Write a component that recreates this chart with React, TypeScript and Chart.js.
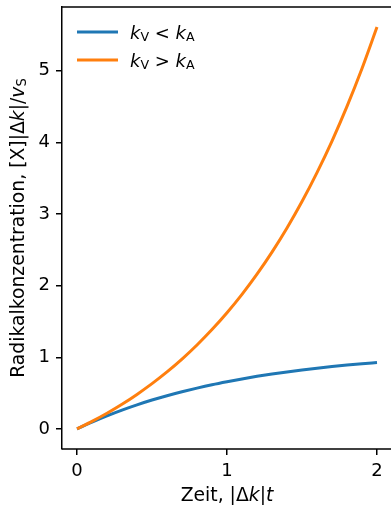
import React, { useEffect, useRef } from "react";
import { Chart, registerables } from "chart.js";

Chart.register(...registerables);

// ---- data ----
const timeValues = [0, 0.1, 0.2, 0.3, 0.4, 0.5, 0.6, 0.7, 0.8, 0.9, 1.0, 1.1, 1.2, 1.3, 1.4, 1.5, 1.6, 1.7, 1.8, 1.9, 2.0];
// k_V < k_A (saturating)
const slowValues = [0, 0.096, 0.183, 0.263, 0.336, 0.403, 0.464, 0.519, 0.570, 0.617, 0.659, 0.698, 0.734, 0.766, 0.796, 0.823, 0.848, 0.871, 0.891, 0.910, 0.927];
// k_V > k_A (growing)
const fastValues = [0, 0.105, 0.219, 0.344, 0.482, 0.632, 0.796, 0.975, 1.172, 1.387, 1.622, 1.879, 2.161, 2.469, 2.806, 3.175, 3.579, 4.020, 4.503, 5.032, 5.611];
const xTickValues = [0, 1, 2];
const yTickValues = [0, 1, 2, 3, 4, 5];
const seriesLabels = ["kV < kA", "kV > kA"];

const BLUE = "#1f77b4";
const ORANGE = "#ff7f0e";
const FONT = '"DejaVu Sans"';
const FS = 18;
const TITLE_FS = 18.8;
const CANVAS_W = 420;
const CHART_RIGHT = 392;

type Seg = { t: string; it?: boolean; sub?: boolean };

function segFont(s: Seg, size: number) {
  const sz = s.sub ? size * 0.7 : size;
  return `${s.it ? "italic " : ""}${sz}px ${FONT}`;
}

function richWidth(ctx: CanvasRenderingContext2D, segs: Seg[], size: number) {
  let w = 0;
  for (const s of segs) {
    ctx.font = segFont(s, size);
    w += ctx.measureText(s.t).width;
  }
  return w;
}

function drawRich(ctx: CanvasRenderingContext2D, segs: Seg[], x: number, y: number, size: number) {
  let cx = x;
  ctx.textBaseline = "alphabetic";
  ctx.textAlign = "left";
  for (const s of segs) {
    ctx.font = segFont(s, size);
    ctx.fillText(s.t, cx, s.sub ? y + size * 0.13 : y);
    cx += ctx.measureText(s.t).width;
  }
}

const legendSegs: Seg[][] = [
  [{ t: "k", it: true }, { t: "V", sub: true }, { t: " < " }, { t: "k", it: true }, { t: "A", sub: true }],
  [{ t: "k", it: true }, { t: "V", sub: true }, { t: " > " }, { t: "k", it: true }, { t: "A", sub: true }],
];
const xTitleSegs: Seg[] = [{ t: "Zeit, |Δ" }, { t: "k", it: true }, { t: "|" }, { t: "t", it: true }];
const yTitleSegs: Seg[] = [
  { t: "Radikalkonzentration, [X]|Δ" },
  { t: "k", it: true },
  { t: "|/" },
  { t: "v", it: true },
  { t: "S", sub: true },
];

const decorPlugin = {
  id: "decor",
  afterDraw(chart: any) {
    const ctx: CanvasRenderingContext2D = chart.ctx;
    const a = chart.chartArea;
    ctx.save();
    // top spine only (the right spine lies outside the visible width)
    ctx.strokeStyle = "#000";
    ctx.lineWidth = 1.5;
    ctx.beginPath();
    ctx.moveTo(a.left, a.top);
    ctx.lineTo(chart.width, a.top);
    ctx.stroke();

    // legend
    const colors = [BLUE, ORANGE];
    for (let i = 0; i < 2; i++) {
      const ly = a.top + 25 + i * 28;
      ctx.strokeStyle = colors[i];
      ctx.lineWidth = 3;
      ctx.lineCap = "butt";
      ctx.beginPath();
      ctx.moveTo(a.left + 15, ly);
      ctx.lineTo(a.left + 56, ly);
      ctx.stroke();
      ctx.fillStyle = "#000";
      drawRich(ctx, legendSegs[i], a.left + 68, ly + 6.5, FS);
    }

    // x title
    ctx.fillStyle = "#000";
    const xw = richWidth(ctx, xTitleSegs, TITLE_FS);
    const xc = (a.left + a.right) / 2;
    drawRich(ctx, xTitleSegs, xc - xw / 2, 501, TITLE_FS);

    // y title
    const yw = richWidth(ctx, yTitleSegs, TITLE_FS);
    const yc = (a.top + a.bottom) / 2;
    ctx.translate(24, yc);
    ctx.rotate(-Math.PI / 2);
    drawRich(ctx, yTitleSegs, -yw / 2, 0, TITLE_FS);
    ctx.restore();
  },
};

export default function App() {
  const ref = useRef<HTMLCanvasElement | null>(null);

  useEffect(() => {
    if (!ref.current) return;
    const tickFont = { family: "DejaVu Sans", size: FS };
    const grid = {
      display: true,
      drawOnChartArea: false,
      drawTicks: true,
      tickLength: 6,
      color: "#000",
      lineWidth: 1.5,
    };
    const border = { display: true, color: "#000", width: 1.5 };
    const chart = new Chart(ref.current, {
      type: "line",
      data: {
        datasets: [
          {
            label: seriesLabels[0],
            data: timeValues.map((t, i) => ({ x: t, y: slowValues[i] })),
            borderColor: BLUE,
            backgroundColor: BLUE,
            borderWidth: 3,
            pointRadius: 0,
            fill: false,
            cubicInterpolationMode: "monotone",
            order: 2,
          },
          {
            label: seriesLabels[1],
            data: timeValues.map((t, i) => ({ x: t, y: fastValues[i] })),
            borderColor: ORANGE,
            backgroundColor: ORANGE,
            borderWidth: 3,
            pointRadius: 0,
            fill: false,
            cubicInterpolationMode: "monotone",
            order: 1,
          },
        ],
      },
      options: {
        animation: false,
        responsive: false,
        devicePixelRatio: 1,
        layout: { padding: { top: 7, right: CANVAS_W - CHART_RIGHT, left: 0, bottom: 0 } },
        plugins: {
          legend: { display: false },
          tooltip: { enabled: false },
        },
        scales: {
          x: {
            type: "linear",
            min: -0.1,
            max: 2.1,
            afterBuildTicks: (s: any) => {
              s.ticks = xTickValues.map((v) => ({ value: v }));
            },
            afterFit: (s: any) => {
              s.height = 56;
              s.paddingLeft = 0;
              s.paddingRight = 0;
            },
            ticks: {
              font: tickFont,
              color: "#000",
              padding: 6,
              maxRotation: 0,
              autoSkip: false,
              callback: (v: any) => String(v),
            },
            grid,
            border: { display: false },
          },
          y: {
            type: "linear",
            min: -0.2805,
            max: 5.8912,
            afterBuildTicks: (s: any) => {
              s.ticks = yTickValues.map((v) => ({ value: v }));
            },
            afterFit: (s: any) => {
              s.width = 62;
              s.paddingTop = 0;
              s.paddingBottom = 0;
            },
            ticks: {
              font: tickFont,
              color: "#000",
              padding: 6,
              autoSkip: false,
              callback: (v: any) => String(v),
            },
            grid,
            border,
          },
        },
      } as any,
      plugins: [
        decorPlugin,
        {
          id: "bottomSpine",
          afterDraw(chart: any) {
            const ctx = chart.ctx;
            const a = chart.chartArea;
            ctx.save();
            ctx.strokeStyle = "#000";
            ctx.lineWidth = 1.5;
            ctx.beginPath();
            ctx.moveTo(a.left, a.bottom);
            ctx.lineTo(chart.width, a.bottom);
            ctx.stroke();
            ctx.restore();
          },
        },
      ],
    });
    return () => chart.destroy();
  }, []);

  return (
    <div
      style={{
        position: "absolute",
        left: 0,
        top: 0,
        width: 391,
        height: 505,
        overflow: "hidden",
        background: "#fff",
      }}
    >
      <canvas ref={ref} width={CANVAS_W} height={505} style={{ display: "block" }} />
    </div>
  );
}
